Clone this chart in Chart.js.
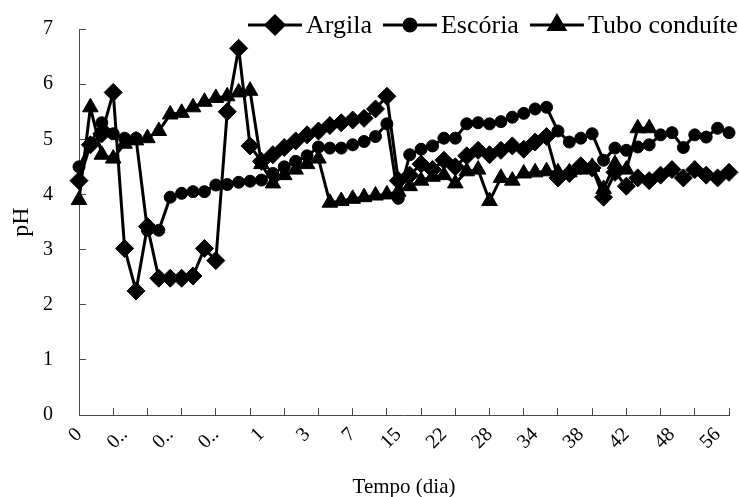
<!DOCTYPE html>
<html lang="pt">
<head>
    <meta charset="UTF-8">
    <title>pH x Tempo</title>
    <script src="https://cdn.jsdelivr.net/npm/chart.js"></script>
    <style>
        body { margin: 0; background: #fff; }
        #wrap { width: 739px; height: 497px; }
    </style>
</head>
<body>
    <div id="wrap"><canvas id="phChart" width="739" height="497"></canvas></div>

    <script>
        // eixo x: um rótulo a cada 4 coletas
        const tickLabels = ['0', '0..', '0..', '0..', '1', '3', '7', '15', '22', '28', '34', '38', '42', '48', '56'];
        const nPoints = 58;

        const argila = [4.25, 4.9, 5.1, 5.85, 3.02, 2.25, 3.42, 2.48, 2.48, 2.48,
                        2.52, 3.02, 2.8, 5.5, 6.65, 4.88, 4.6, 4.72, 4.85, 4.97,
                        5.08, 5.15, 5.25, 5.3, 5.35, 5.38, 5.55, 5.78, 4.25, 4.35,
                        4.55, 4.45, 4.62, 4.5, 4.7, 4.8, 4.72, 4.8, 4.88, 4.82,
                        4.95, 5.05, 4.3, 4.38, 4.52, 4.48, 3.95, 4.4, 4.15, 4.3,
                        4.25, 4.35, 4.45, 4.3, 4.45, 4.35, 4.3, 4.4];
        const escoria = [4.5, 4.92, 5.3, 5.1, 5.02, 5.02, 3.35, 3.35, 3.95, 4.02,
                         4.05, 4.05, 4.17, 4.18, 4.22, 4.24, 4.26, 4.38, 4.5, 4.6,
                         4.7, 4.86, 4.84, 4.84, 4.9, 4.96, 5.05, 5.28, 3.93, 4.72,
                         4.82, 4.88, 5.02, 5.02, 5.28, 5.3, 5.28, 5.32, 5.4, 5.47,
                         5.55, 5.58, 5.15, 4.95, 5.02, 5.1, 4.62, 4.84, 4.8, 4.86,
                         4.9, 5.08, 5.12, 4.85, 5.08, 5.04, 5.2, 5.12];
        const tubo = [3.9, 5.58, 4.72, 4.65, 4.92, 4.98, 5.02, 5.15, 5.45, 5.48,
                      5.58, 5.68, 5.75, 5.78, 5.85, 5.88, 4.55, 4.2, 4.35, 4.45,
                      4.55, 4.65, 3.85, 3.88, 3.92, 3.95, 3.98, 4.0, 4.05, 4.15,
                      4.25, 4.32, 4.35, 4.2, 4.42, 4.45, 3.88, 4.3, 4.25, 4.38,
                      4.4, 4.42, 4.4, 4.4, 4.45, 4.5, 4.1, 4.55, 4.45, 5.2,
                      5.2];

        const labels = [];
        for (let i = 0; i < nPoints; i++) labels.push(i % 4 === 0 ? tickLabels[i / 4] : '');

        const axisColor = '#4a4a4a';
        const serif = "'Liberation Serif', 'Times New Roman', serif";

        function serie(label, data, style, radius) {
            return {
                label: label,
                data: data,
                borderColor: '#000',
                backgroundColor: '#000',
                borderWidth: 3,
                pointStyle: style,
                pointRadius: radius,
                pointBorderWidth: 1,
                pointBackgroundColor: '#000',
                pointBorderColor: '#000',
                tension: 0,
                spanGaps: false
            };
        }

        // legenda desenhada por cima do gráfico: linha + marcador + texto
        const legendaTopo = {
            id: 'legendaTopo',
            afterDraw(chart) {
                const ctx = chart.ctx;
                ctx.save();
                ctx.font = '26px ' + serif;
                ctx.textBaseline = 'middle';
                let x = 248;
                const y = 25;
                chart.data.datasets.forEach(ds => {
                    ctx.strokeStyle = '#000';
                    ctx.lineWidth = 3;
                    ctx.beginPath();
                    ctx.moveTo(x, y);
                    ctx.lineTo(x + 54, y);
                    ctx.stroke();
                    ctx.fillStyle = '#000';
                    Chart.helpers.drawPoint(ctx, {
                        pointStyle: ds.pointStyle,
                        radius: ds.pointRadius,
                        rotation: 0,
                        borderWidth: 1
                    }, x + 27, y);
                    x += 58;
                    ctx.fillStyle = '#000';
                    ctx.fillText(ds.label, x, y + 1);
                    x += ctx.measureText(ds.label).width + 11;
                });
                ctx.restore();
            }
        };

        new Chart(document.getElementById('phChart'), {
            type: 'line',
            data: {
                labels: labels,
                datasets: [
                    serie('Argila', argila, 'rectRot', 9),
                    serie('Escória', escoria, 'circle', 6),
                    serie('Tubo conduíte', tubo, 'triangle', 9)
                ]
            },
            options: {
                responsive: false,
                animation: false,
                layout: { padding: { top: 29, right: 2, left: 0, bottom: 0 } },
                plugins: {
                    legend: { display: false },
                    tooltip: { enabled: false }
                },
                scales: {
                    x: {
                        offset: false,
                        grid: {
                            drawOnChartArea: false,
                            drawTicks: true,
                            tickLength: -7,
                            tickWidth: 1,
                            tickColor: c => (c.index === undefined || c.index % 3 === 0) ? axisColor : 'rgba(0,0,0,0)'
                        },
                        border: { display: true, color: axisColor, width: 1 },
                        ticks: {
                            autoSkip: false,
                            maxRotation: 45,
                            minRotation: 45,
                            padding: 15,
                            color: '#000',
                            font: { family: serif, size: 20 }
                        },
                        title: {
                            display: true,
                            text: 'Tempo (dia)',
                            color: '#000',
                            font: { family: serif, size: 21, lineHeight: 0.95 },
                            padding: { top: 0, bottom: 0 }
                        },
                        afterFit: s => { s.height = 82; s.paddingLeft = 0; s.paddingRight = 0; }
                    },
                    y: {
                        min: 0,
                        max: 7,
                        grid: {
                            drawOnChartArea: false,
                            drawTicks: true,
                            tickLength: -7,
                            tickWidth: 1,
                            tickColor: axisColor
                        },
                        border: { display: true, color: axisColor, width: 1 },
                        ticks: {
                            stepSize: 1,
                            padding: 33,
                            color: '#000',
                            font: { family: serif, size: 20 }
                        },
                        title: {
                            display: true,
                            text: 'pH',
                            color: '#000',
                            font: { family: serif, size: 24 },
                            padding: { top: 7, bottom: 0 }
                        },
                        afterFit: s => { s.width = 79; s.paddingTop = 0; s.paddingBottom = 0; }
                    }
                }
            },
            plugins: [legendaTopo]
        });
    </script>
</body>
</html>
